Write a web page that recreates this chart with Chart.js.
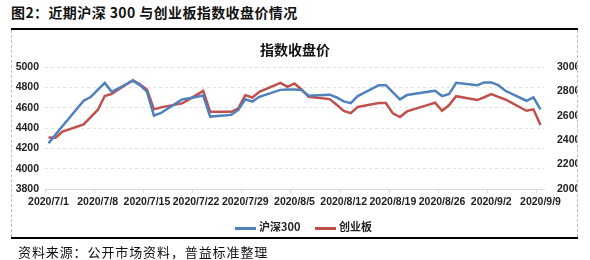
<!DOCTYPE html>
<html>
<head>
<meta charset="utf-8">
<script src="https://cdn.jsdelivr.net/npm/chart.js@4/dist/chart.umd.min.js"></script>
<style>
    body { margin: 0; background: #fff; }
    #page { position: relative; width: 590px; height: 260px; overflow: hidden; font-family: "Noto Sans CJK SC", sans-serif; }
    #fig-title { position: absolute; left: 11px; top: 2px; font-size: 14px; font-weight: bold; color: #111; letter-spacing: 0.4px; white-space: nowrap; }
    #top-rule { position: absolute; left: 11px; top: 28px; width: 567px; height: 0; border-top: 2px solid #000; }
    #box { position: absolute; left: 11px; top: 30px; width: 565px; height: 207px; border-left: 1px dashed #bbb; border-right: 1px dashed #bbb; }
    #bottom-rule { position: absolute; left: 11px; top: 237px; width: 567px; height: 0; border-top: 2px solid #000; }
    #chart-title { position: absolute; left: 0; width: 590px; top: 39px; text-align: center; font-size: 14px; font-weight: bold; color: #111; }
    #legend { position: absolute; top: 218px; left: 235px; font-family: "Noto Sans CJK SC", sans-serif; font-size: 11px; font-weight: bold; color: #222; white-space: nowrap; }
    #legend span.sw { display: inline-block; width: 21px; height: 0; border-top: 3px solid; vertical-align: middle; margin-right: 3px; }
    #source { position: absolute; left: 18px; top: 242px; font-size: 13px; color: #111; letter-spacing: 0.9px; white-space: nowrap; }
</style>
</head>
<body>
<div id="page">
    <div id="fig-title">图2：近期沪深 300 与创业板指数收盘价情况</div>
    <div id="top-rule"></div>
    <div id="box"><canvas id="chart-idx" width="565" height="207"></canvas></div>
    <div id="bottom-rule"></div>
    <div id="chart-title">指数收盘价</div>
    <div id="legend">
        <span class="sw" style="border-color:#4F81BD"></span>沪深300
        <span class="sw" style="border-color:#C0504D; margin-left:12px"></span>创业板
    </div>
    <div id="source">资料来源：公开市场资料，普益标准整理</div>
</div>
<script>
// trading days, 2020
const dates = [
    '7/1','7/2','7/3','7/6','7/7','7/8','7/9','7/10','7/13','7/14','7/15','7/16','7/17',
    '7/20','7/21','7/22','7/23','7/24','7/27','7/28','7/29','7/30','7/31',
    '8/3','8/4','8/5','8/6','8/7','8/10','8/11','8/12','8/13','8/14',
    '8/17','8/18','8/19','8/20','8/21','8/24','8/25','8/26','8/27','8/28','8/31',
    '9/1','9/2','9/3','9/4','9/7','9/8','9/9'
];
const hs300 = [
    4250, 4335, 4420, 4668, 4705, 4775, 4844, 4756, 4865, 4822, 4758, 4522, 4548,
    4682, 4692, 4705, 4720, 4512, 4529, 4578, 4682, 4660, 4707,
    4775, 4779, 4779, 4773, 4718, 4728, 4700, 4662, 4645, 4714,
    4821, 4821, 4750, 4682, 4724, 4756, 4766, 4714, 4734, 4844, 4821,
    4848, 4848, 4821, 4766, 4668, 4701, 4584
];
const cyb = [
    2423, 2420, 2470, 2530, 2590, 2648, 2762, 2780, 2892, 2859, 2816, 2653, 2669,
    2702, 2735, 2770, 2804, 2633, 2633, 2661, 2769, 2750, 2796,
    2870, 2837, 2865, 2816, 2756, 2737, 2690, 2640, 2622, 2672,
    2704, 2704, 2620, 2590, 2636, 2690, 2707, 2641, 2688, 2761, 2729,
    2752, 2777, 2755, 2734, 2641, 2653, 2525
];
const tickLabels = ['2020/7/1','2020/7/8','2020/7/15','2020/7/22','2020/7/29','2020/8/5',
    '2020/8/12','2020/8/19','2020/8/26','2020/9/2','2020/9/9'];

// day number counted from 2020/7/1 (date axis, weekends leave gaps)
function dayNo(s) {
    const [m, d] = s.split('/').map(Number);
    return (Date.UTC(2020, m - 1, d) - Date.UTC(2020, 6, 1)) / 86400000;
}
const xs = dates.map(dayNo);

const tickFont = { family: 'Liberation Sans', size: 10.5, weight: 'bold' };

new Chart(document.getElementById('chart-idx'), {
    type: 'line',
    data: {
        datasets: [{
            label: '沪深300',
            data: hs300.map((v, i) => ({ x: xs[i], y: v })),
            borderColor: '#4F81BD',
            borderWidth: 2.5,
            pointRadius: 0,
            yAxisID: 'y'
        }, {
            label: '创业板',
            data: cyb.map((v, i) => ({ x: xs[i], y: v })),
            borderColor: '#C0504D',
            borderWidth: 2.5,
            pointRadius: 0,
            yAxisID: 'y1'
        }]
    },
    options: {
        responsive: false,
        animation: false,
        layout: { padding: { top: 37, left: 0, right: 0, bottom: 0 } },
        plugins: { legend: { display: false }, tooltip: { enabled: false } },
        scales: {
            x: {
                type: 'linear',
                min: -0.5,
                max: 70.5,
                afterBuildTicks: (scale) => {
                    scale.ticks = tickLabels.map((t, i) => ({ value: -0.5 + 7 * i }));
                },
                afterFit: (scale) => { scale.height = 48; },
                ticks: {
                    callback: (v, i) => tickLabels[i],
                    autoSkip: false,
                    maxRotation: 0,
                    labelOffset: 3.5,
                    padding: 3,
                    color: '#222',
                    font: tickFont
                },
                grid: { drawOnChartArea: false, tickLength: 4, color: '#d9d9d9' },
                border: { color: '#d9d9d9' }
            },
            y: {
                position: 'left',
                min: 3800,
                max: 5000,
                ticks: { stepSize: 200, padding: 6, color: '#222', font: tickFont, callback: (v) => String(v) },
                afterFit: (scale) => { scale.width = 33; },
                grid: { color: '#e3e3e3', drawTicks: false },
                border: { display: false, dash: [3, 3] }
            },
            y1: {
                position: 'right',
                min: 2000,
                max: 3000,
                ticks: { stepSize: 200, padding: 5, color: '#222', font: tickFont, callback: (v) => String(v) },
                afterFit: (scale) => { scale.width = 33; },
                grid: { display: false },
                border: { display: false }
            }
        }
    }
});
</script>
</body>
</html>
